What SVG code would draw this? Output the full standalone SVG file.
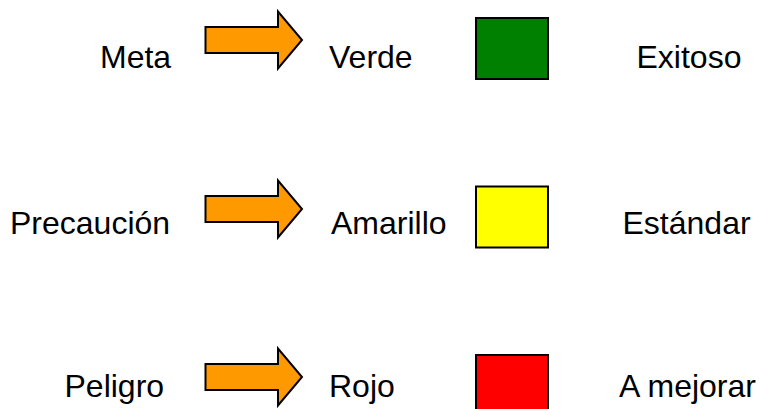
<svg xmlns="http://www.w3.org/2000/svg" width="759" height="409" viewBox="0 0 759 409">
<defs>
<style>
.t{font-family:"Liberation Sans",Arial,sans-serif;font-size:32px;fill:#000}
.arr{fill:#FF9900;stroke:#000;stroke-width:2;stroke-linejoin:miter}
.sq{stroke:#000;stroke-width:2}
</style>
<path id="arrowShape" d="M0,-13 H72.5 V-28.5 L96.5,0 L72.5,28.5 V13 H0 Z"/>
</defs>
<rect width="759" height="409" fill="#fff"/>
<g id="connectors">
<use href="#arrowShape" class="arr" transform="translate(205.5,40)"/>
<use href="#arrowShape" class="arr" transform="translate(205.5,209)"/>
<use href="#arrowShape" class="arr" transform="translate(205.5,377)"/>
</g>
<g id="meta"><text class="t" x="100" y="67.7">Meta</text></g>
<g id="verde"><text class="t" x="329" y="67.7">Verde</text></g>
<g id="sq-verde"><rect class="sq" x="476" y="18" width="72" height="61" fill="#008000"/></g>
<g id="exitoso"><text class="t" x="636.5" y="67.7">Exitoso</text></g>
<g id="precaucion"><text class="t" x="10" y="233.8">Precaución</text></g>
<g id="amarillo"><text class="t" x="331" y="233.5">Amarillo</text></g>
<g id="sq-amarillo"><rect class="sq" x="476" y="186.5" width="72" height="61" fill="#FFFF00"/></g>
<g id="estandar"><text class="t" x="622.5" y="233.5">Estándar</text></g>
<g id="peligro"><text class="t" x="64.5" y="397">Peligro</text></g>
<g id="rojo"><text class="t" x="329" y="396.5">Rojo</text></g>
<g id="sq-rojo"><rect class="sq" x="476" y="355" width="72" height="61" fill="#FF0000"/></g>
<g id="amejorar"><text class="t" x="619" y="397">A mejorar</text></g>
</svg>
